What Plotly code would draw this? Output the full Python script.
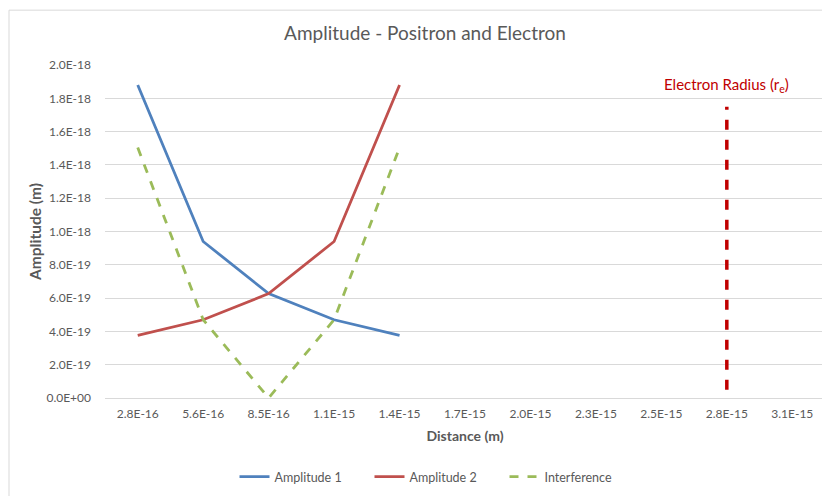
import plotly.graph_objects as go

categories = ["2.8E-16", "5.6E-16", "8.5E-16", "1.1E-15", "1.4E-15", "1.7E-15",
              "2.0E-15", "2.3E-15", "2.5E-15", "2.8E-15", "3.1E-15"]
amplitude1 = [1.88e-18, 0.94e-18, 0.627e-18, 0.47e-18, 0.376e-18]
amplitude2 = [0.376e-18, 0.47e-18, 0.627e-18, 0.94e-18, 1.88e-18]
interference = [1.504e-18, 0.47e-18, 0.0, 0.47e-18, 1.504e-18]
radius_category = "2.8E-15"
radius_y = [0.05e-18, 1.75e-18]
y_ticks = [i * 2e-19 for i in range(11)]
y_ticklabels = ["0.0E+00", "2.0E-19", "4.0E-19", "6.0E-19", "8.0E-19", "1.0E-18",
                "1.2E-18", "1.4E-18", "1.6E-18", "1.8E-18", "2.0E-18"]

FONT = "Lato, Liberation Sans, sans-serif"
GREY = "#595959"
idx = {c: i for i, c in enumerate(categories)}
xs = [idx[c] for c in categories[:5]]

# page has an 8px body margin; figure drawn at page offset (8, 8)
OFF = 8
W, H = 830 - OFF, 496 - OFF

fig = go.Figure()
fig.add_trace(go.Scatter(x=xs, y=amplitude1, mode="lines", name="Amplitude 1",
                         line=dict(color="#4F81BD", width=2.8)))
fig.add_trace(go.Scatter(x=xs, y=amplitude2, mode="lines", name="Amplitude 2",
                         line=dict(color="#C0504D", width=2.8)))
fig.add_trace(go.Scatter(x=xs, y=interference, mode="lines", name="Interference",
                         line=dict(color="#9BBB59", width=2.8, dash="9px,9px")))
fig.add_trace(go.Scatter(x=[idx[radius_category]] * 2, y=radius_y, mode="lines",
                         showlegend=False, hoverinfo="skip",
                         line=dict(color="#C00000", width=3.5, dash="10px,10px")))

# page px -> paper coords; plot area on page x 105..825, y 65..399
def px_x(p):
    return (p - 105) / 720.0
def px_y(p):
    return (399 - p) / 334.0

fig.add_shape(type="rect", xref="paper", yref="paper",
              x0=px_x(OFF + 1), x1=px_x(845), y0=px_y(10), y1=px_y(520),
              line=dict(color="#D9D9D9", width=1), fillcolor="rgba(0,0,0,0)", layer="below")

fig.add_annotation(text="Electron Radius (r<sub>e</sub>)", x=idx[radius_category],
                   xref="x", y=px_y(73), yref="paper", showarrow=False,
                   font=dict(family=FONT, size=15, color="#C00000"))

fig.update_layout(
    width=W, height=H,
    margin=dict(l=97, r=5, t=57, b=97),
    paper_bgcolor="white", plot_bgcolor="white",
    font=dict(family=FONT, color=GREY),
    title=dict(text="Amplitude - Positron and Electron", x=(425 - OFF) / W, xanchor="center",
               y=1 - (33 - OFF) / H, yanchor="middle",
               font=dict(family=FONT, size=19, color=GREY)),
    showlegend=True,
    legend=dict(orientation="h", x=px_x(437), xanchor="center", y=px_y(477), yanchor="middle",
                font=dict(family=FONT, size=12.5, color=GREY), itemwidth=30,
                entrywidth=90, entrywidthmode="pixels",
                bgcolor="rgba(0,0,0,0)"),
    xaxis=dict(range=[-0.5, 10.5], tickmode="array", tickvals=list(range(len(categories))),
               ticktext=categories, showgrid=False, zeroline=False,
               showline=True, linecolor="#D9D9D9", linewidth=1, ticks="",
               ticklabelstandoff=5,
               tickfont=dict(family=FONT, size=12, color=GREY),
               title=dict(text="<b>Distance (m)</b>", standoff=10,
                          font=dict(family=FONT, size=14, color=GREY))),
    yaxis=dict(range=[0, 2e-18], tickmode="array", tickvals=y_ticks, ticktext=y_ticklabels,
               showgrid=True, gridcolor="#D9D9D9", gridwidth=1, zeroline=False,
               showline=False, ticks="", ticklabelstandoff=13,
               tickfont=dict(family=FONT, size=12, color=GREY),
               title=dict(text="<b>Amplitude (m)</b>", standoff=1,
                          font=dict(family=FONT, size=15.5, color=GREY))),
)

fig.write_html("out.html")
